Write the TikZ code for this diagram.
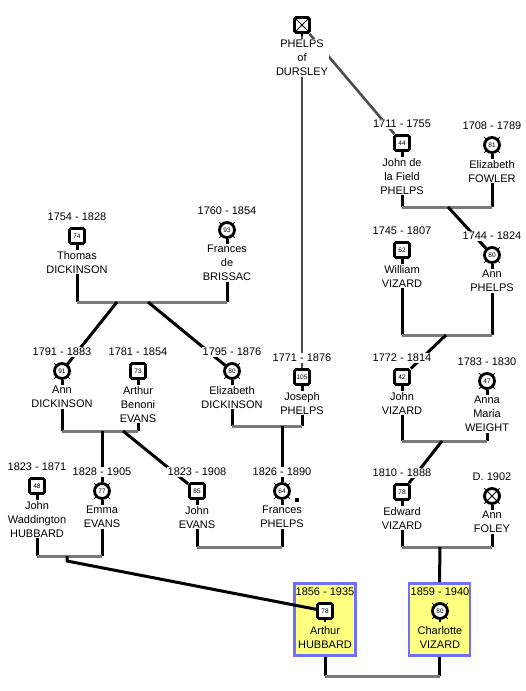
\documentclass[tikz,border=0pt]{standalone}
\usepackage{fontspec}
\setmainfont{Liberation Sans}
\usetikzlibrary{positioning, backgrounds}
\definecolor{boxfill}{HTML}{FFFF80}
\definecolor{boxline}{HTML}{7070FF}
\tikzstyle{male} = [rectangle, rounded corners=1.5pt, minimum size=15pt, inner sep=0pt, line width=2.8pt, draw=black, fill=white, font=\fontsize{6.5}{6.5}\selectfont, append after command={(\tikzlastnode.south) edge[line width=1.8pt] ++(0,-2.5pt)}]
\tikzstyle{female} = [circle, minimum size=15pt, inner sep=0pt, line width=2.8pt, draw=black, fill=white, font=\fontsize{6.5}{6.5}\selectfont, append after command={(\tikzlastnode.south) edge[line width=1.8pt] ++(0,-2.5pt) (\tikzlastnode.45) edge[line width=0.9pt] ++(45:2pt) (\tikzlastnode.135) edge[line width=0.9pt] ++(135:2pt) (\tikzlastnode.225) edge[line width=0.9pt] ++(225:2pt) (\tikzlastnode.315) edge[line width=0.9pt] ++(315:2pt)}]
\tikzstyle{crossed} = [path picture={\draw[line width=0.8pt] (path picture bounding box.north west) -- (path picture bounding box.south east) (path picture bounding box.north east) -- (path picture bounding box.south west);}]
\tikzstyle{datetext} = [fill=white, inner sep=1pt, font=\fontsize{11}{14}\selectfont]
\tikzstyle{nametext} = [datetext, align=center]
\tikzstyle{focusbox} = [rectangle, draw=boxline, fill=boxfill, line width=2.8pt, minimum width=61pt, minimum height=72pt]
\tikzstyle{descent} = [line width=3pt, black]
\tikzstyle{marriage} = [line width=3pt, black!52]
\tikzstyle{lineage} = [line width=2.6pt, black!70]

\begin{document}
\begin{tikzpicture}[x=1pt, y=-1pt, node distance=5pt]
\useasboundingbox (0,0) rectangle (526,691);
\node (dursley) [male, crossed] at (302,25) {};
\node (dursleyn) [nametext, below=of dursley] {PHELPS\\of\\DURSLEY};
\node (johnf) [male] at (402,143) {44};
\node (johnfd) [datetext, above=of johnf] {1711 - 1755};
\node (johnfn) [nametext, below=of johnf] {John de\\la Field\\PHELPS};
\node (elizf) [female] at (492,145) {81};
\node (elizfd) [datetext, above=of elizf] {1708 - 1789};
\node (elizfn) [nametext, below=of elizf] {Elizabeth\\FOWLER};
\node (thomas) [male] at (77,236) {74};
\node (thomasd) [datetext, above=of thomas] {1754 - 1828};
\node (thomasn) [nametext, below=of thomas] {Thomas\\DICKINSON};
\node (frances) [female] at (227,230) {93};
\node (francesd) [datetext, above=of frances] {1760 - 1854};
\node (francesn) [nametext, below=of frances] {Frances\\de\\BRISSAC};
\node (william) [male] at (402,250) {62};
\node (williamd) [datetext, above=of william] {1745 - 1807};
\node (williamn) [nametext, below=of william] {William\\VIZARD};
\node (annp) [female] at (492,255) {80};
\node (annpd) [datetext, above=of annp] {1744 - 1824};
\node (annpn) [nametext, below=of annp] {Ann\\PHELPS};
\node (annd) [female] at (62,371) {91};
\node (anndd) [datetext, above=of annd] {1791 - 1883};
\node (anndn) [nametext, below=of annd] {Ann\\DICKINSON};
\node (arthurb) [male] at (138,371) {73};
\node (arthurbd) [datetext, above=of arthurb] {1781 - 1854};
\node (arthurbn) [nametext, below=of arthurb] {Arthur\\Benoni\\EVANS};
\node (elizd) [female] at (232,371) {80};
\node (elizdd) [datetext, above=of elizd] {1795 - 1876};
\node (elizdn) [nametext, below=of elizd] {Elizabeth\\DICKINSON};
\node (joseph) [male] at (302,377) {105};
\node (josephd) [datetext, above=of joseph] {1771 - 1876};
\node (josephn) [nametext, below=of joseph] {Joseph\\PHELPS};
\node (johnv) [male] at (402,377) {42};
\node (johnvd) [datetext, above=of johnv] {1772 - 1814};
\node (johnvn) [nametext, below=of johnv] {John\\VIZARD};
\node (anna) [female] at (487,381) {47};
\node (annad) [datetext, above=of anna] {1783 - 1830};
\node (annan) [nametext, below=of anna] {Anna\\Maria\\WEIGHT};
\node (johnh) [male] at (37,486) {48};
\node (johnhd) [datetext, above=of johnh] {1823 - 1871};
\node (johnhn) [nametext, below=of johnh] {John\\Waddington\\HUBBARD};
\node (emma) [female] at (102,491) {77};
\node (emmad) [datetext, above=of emma] {1828 - 1905};
\node (emman) [nametext, below=of emma] {Emma\\EVANS};
\node (johne) [male] at (197,491) {85};
\node (johned) [datetext, above=of johne] {1823 - 1908};
\node (johnen) [nametext, below=of johne] {John\\EVANS};
\node (francesp) [female] at (282,491) {64};
\node (francespd) [datetext, above=of francesp] {1826 - 1890};
\node (francespn) [nametext, below=of francesp] {Frances\\PHELPS};
\node (francespmark) [rectangle, fill=black, minimum size=4pt, inner sep=0pt] at (297,500) {};
\node (edward) [male] at (402,492) {78};
\node (edwardd) [datetext, above=of edward] {1810 - 1888};
\node (edwardn) [nametext, below=of edward] {Edward\\VIZARD};
\node (annf) [female, crossed] at (492,496) {};
\node (annfd) [datetext, above=of annf] {D. 1902};
\node (annfn) [nametext, below=of annf] {Ann\\FOLEY};
\node (arthurh) [male] at (325,611) {78};
\node (arthurhd) [datetext, fill=none, above=of arthurh] {1856 - 1935};
\node (arthurhn) [nametext, fill=none, below=of arthurh] {Arthur\\HUBBARD};
\node (charlotte) [female] at (440,611) {80};
\node (charlotted) [datetext, fill=none, above=of charlotte] {1859 - 1940};
\node (charlotten) [nametext, fill=none, below=of charlotte] {Charlotte\\VIZARD};
\begin{scope}[on background layer]
\node (arthurhbox) [focusbox] at (325,619.5) {};
\node (charlottebox) [focusbox] at (439.5,619.5) {};
\coordinate (m1a) at (117,302);
\coordinate (m1b) at (148,302);
\coordinate (m2a) at (102,431);
\coordinate (m2b) at (123,431);
\coordinate (m3) at (282,426);
\coordinate (m4) at (448,207);
\coordinate (m5) at (446,335);
\coordinate (m6) at (442,441);
\coordinate (m7) at (67,556);
\coordinate (m8) at (240,547);
\coordinate (m9) at (440,547);
\coordinate (m10) at (380,676);
\draw [lineage] (dursley) -- (joseph);
\draw [lineage] (dursley) -- (johnf);
\draw [descent] (johnf) -- (johnf |- m4);
\draw [descent] (elizf) -- (elizf |- m4);
\draw [marriage] (johnf |- m4) -- (elizf |- m4);
\draw [descent] (m4) -- (annp);
\draw [descent] (thomas) -- (thomas |- m1a);
\draw [descent] (frances) -- (frances |- m1a);
\draw [marriage] (thomas |- m1a) -- (frances |- m1a);
\draw [descent] (m1a) -- (annd);
\draw [descent] (m1b) -- (elizd);
\draw [descent] (william) -- (william |- m5);
\draw [descent] (annp) -- (annp |- m5);
\draw [marriage] (william |- m5) -- (annp |- m5);
\draw [descent] (m5) -- (johnv);
\draw [descent] (annd) -- (annd |- m2a);
\draw [descent] (arthurb) -- (arthurb |- m2a);
\draw [marriage] (annd |- m2a) -- (arthurb |- m2a);
\draw [descent] (m2a) -- (emma);
\draw [descent] (m2b) -- (johne);
\draw [descent] (elizd) -- (elizd |- m3);
\draw [descent] (joseph) -- (joseph |- m3);
\draw [marriage] (elizd |- m3) -- (joseph |- m3);
\draw [descent] (m3) -- (francesp);
\draw [descent] (johnv) -- (johnv |- m6);
\draw [descent] (anna) -- (anna |- m6);
\draw [marriage] (johnv |- m6) -- (anna |- m6);
\draw [descent] (m6) -- (edward);
\draw [descent] (johnh) -- (johnh |- m7);
\draw [descent] (emma) -- (emma |- m7);
\draw [marriage] (johnh |- m7) -- (emma |- m7);
\draw [descent] (m7) -- ++(0,5) -- (arthurh);
\draw [descent] (johne) -- (johne |- m8);
\draw [descent] (francesp) -- (francesp |- m8);
\draw [marriage] (johne |- m8) -- (francesp |- m8);
\draw [descent] (edward) -- (edward |- m9);
\draw [descent] (annf) -- (annf |- m9);
\draw [marriage] (edward |- m9) -- (annf |- m9);
\draw [descent] (m9) -- (charlottebox.north);
\draw [descent] (arthurhbox.south) -- (arthurhbox.south |- m10);
\draw [descent] (charlottebox.south) -- (charlottebox.south |- m10);
\draw [marriage] (arthurhbox.south |- m10) -- (charlottebox.south |- m10);
\end{scope}
\end{tikzpicture}
\end{document}
